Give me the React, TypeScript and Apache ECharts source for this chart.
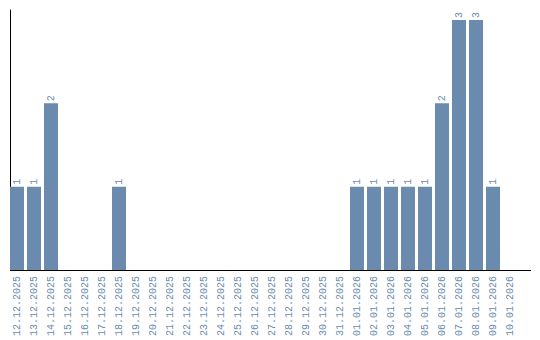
import React, { useEffect, useRef } from "react";
import * as echarts from "echarts";

const categories: string[] = [
  "12.12.2025", "13.12.2025", "14.12.2025", "15.12.2025", "16.12.2025",
  "17.12.2025", "18.12.2025", "19.12.2025", "20.12.2025", "21.12.2025",
  "22.12.2025", "23.12.2025", "24.12.2025", "25.12.2025", "26.12.2025",
  "27.12.2025", "28.12.2025", "29.12.2025", "30.12.2025", "31.12.2025",
  "01.01.2026", "02.01.2026", "03.01.2026", "04.01.2026", "05.01.2026",
  "06.01.2026", "07.01.2026", "08.01.2026", "09.01.2026", "10.01.2026",
];

const counts: number[] = [
  1, 1, 2, 0, 0, 0, 1, 0, 0, 0,
  0, 0, 0, 0, 0, 0, 0, 0, 0, 0,
  1, 1, 1, 1, 1, 2, 3, 3, 1, 0,
];

const BAR_COLOR = "#6a8bad";
const FONT = "Liberation Mono";

export default function App() {
  const ref = useRef<HTMLDivElement>(null);

  useEffect(() => {
    if (!ref.current) return;
    document.body.style.margin = "0";
    const chart = echarts.init(ref.current, undefined, { renderer: "svg" });
    chart.setOption({
      animation: false,
      grid: { left: 8.5, top: 10, width: 510, height: 260 },
      xAxis: {
        type: "category",
        data: categories,
        axisLine: { show: false },
        axisTick: { show: false },
        axisLabel: {
          rotate: 90,
          interval: 0,
          margin: 6,
          color: BAR_COLOR,
          fontFamily: FONT,
          fontSize: 10,
        },
      },
      yAxis: {
        type: "value",
        min: 0,
        max: 3.12,
        offset: -1.5,
        splitLine: { show: false },
        axisLabel: { show: false },
        axisTick: { show: false },
        axisLine: { show: true, lineStyle: { color: "#000", width: 1 } },
      },
      graphic: [
        {
          type: "line",
          shape: { x1: 10, y1: 270.5, x2: 531, y2: 270.5 },
          style: { stroke: "#000", lineWidth: 1 },
          z: 10,
        },
      ],
      series: [
        {
          type: "bar",
          data: counts,
          barWidth: 14,
          itemStyle: { color: BAR_COLOR },
          label: {
            show: true,
            position: "top",
            rotate: 90,
            align: "left",
            verticalAlign: "middle",
            distance: 2,
            color: BAR_COLOR,
            fontFamily: FONT,
            fontSize: 10,
            formatter: (p: any) => (p.value > 0 ? String(p.value) : ""),
          },
        },
      ],
    });
    return () => chart.dispose();
  }, []);

  return (
    <div
      ref={ref}
      style={{ position: "absolute", left: 0, top: 0, width: 540, height: 340 }}
    />
  );
}
